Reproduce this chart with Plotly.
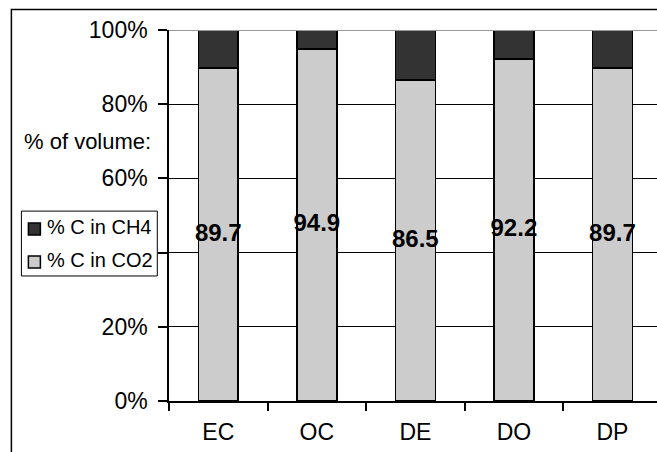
import plotly.graph_objects as go

categories = ["EC", "OC", "DE", "DO", "DP"]
co2 = [89.7, 94.9, 86.5, 92.2, 89.7]
ch4 = [round(100 - v, 1) for v in co2]
y_ticks = [0, 20, 40, 60, 80, 100]
# the 40% label is hidden behind the legend box in the original
y_tick_labels = ["0%", "20%", "", "60%", "80%", "100%"]
series_names = ["% C in CH4", "% C in CO2"]
series_colors = ["#333333", "#cccccc"]

W, H = 657, 452
L, R, T, B = 168.7, 0, 29.5, 50.7
pw = W - L - R
ph = H - T - B

FONT = "Arial, Liberation Sans, sans-serif"

fig = go.Figure()
fig.add_trace(go.Bar(
    x=categories, y=co2, name=series_names[1],
    marker=dict(color=series_colors[1], line=dict(color="black", width=1.6)),
    showlegend=False,
))
fig.add_trace(go.Bar(
    x=categories, y=ch4, name=series_names[0],
    marker=dict(color=series_colors[0], line=dict(color="black", width=1.6)),
    showlegend=False,
))
fig.add_trace(go.Scatter(
    x=categories, y=[v / 2 for v in co2], mode="text",
    text=[f"{v:.1f}" for v in co2],
    textfont=dict(family=FONT, size=24, color="black", weight="bold"),
    showlegend=False, hoverinfo="skip",
))

def px_x(p):
    return (p - L) / pw

def px_y(p):
    return (H - B - p) / ph

# outer chart border (cropped at right and bottom)
fig.add_shape(type="rect", xref="paper", yref="paper",
              x0=px_x(11), x1=px_x(700), y0=px_y(500), y1=px_y(9),
              line=dict(color="black", width=1.5), layer="below")
# plot area top edge
fig.add_shape(type="line", xref="paper", yref="y",
              x0=0, x1=1, y0=100, y1=100,
              line=dict(color="#999999", width=2))

# legend box
fig.add_shape(type="rect", xref="paper", yref="paper",
              x0=px_x(21), x1=px_x(157), y0=px_y(276), y1=px_y(211),
              line=dict(color="black", width=1), fillcolor="white")
for i, (name, col) in enumerate(zip(series_names, series_colors)):
    cy = 228 + 33 * i
    fig.add_shape(type="rect", xref="paper", yref="paper",
                  x0=px_x(28), x1=px_x(40), y0=px_y(cy + 7), y1=px_y(cy - 5),
                  line=dict(color="black", width=1.5), fillcolor=col)
    fig.add_annotation(xref="paper", yref="paper", x=px_x(45), y=px_y(cy - 1),
                       xanchor="left", yanchor="middle", showarrow=False,
                       text=name, font=dict(family=FONT, size=20, color="black"))

fig.add_annotation(xref="paper", yref="paper", x=px_x(153), y=px_y(141),
                   xanchor="right", yanchor="middle", showarrow=False,
                   text="% of volume:", font=dict(family=FONT, size=22, color="black"))

fig.update_layout(
    width=W, height=H,
    margin=dict(l=L, r=R, t=T, b=B, pad=0),
    barmode="stack", bargap=0.595,
    paper_bgcolor="white", plot_bgcolor="white",
    font=dict(family=FONT, color="black"),
    showlegend=False,
)
fig.update_xaxes(
    range=[-0.5, -0.5 + (W - L) / 98.6], showgrid=False,
    showline=True, linecolor="black", linewidth=1.5,
    ticks="outside", tickson="boundaries", ticklen=8, tickcolor="black", tickwidth=1.5,
    tickfont=dict(family=FONT, size=23, color="black"),
    fixedrange=True, ticklabelstandoff=10,
)
fig.update_yaxes(
    range=[0, 100], tickvals=y_ticks, ticktext=y_tick_labels,
    showgrid=True, gridcolor="black", gridwidth=1,
    showline=True, linecolor="black", linewidth=1.5,
    ticks="outside", ticklen=9, tickcolor="black", tickwidth=1.5,
    tickfont=dict(family=FONT, size=23, color="black"),
    zeroline=False, ticklabelstandoff=6,
)

fig.write_html("out.html")
